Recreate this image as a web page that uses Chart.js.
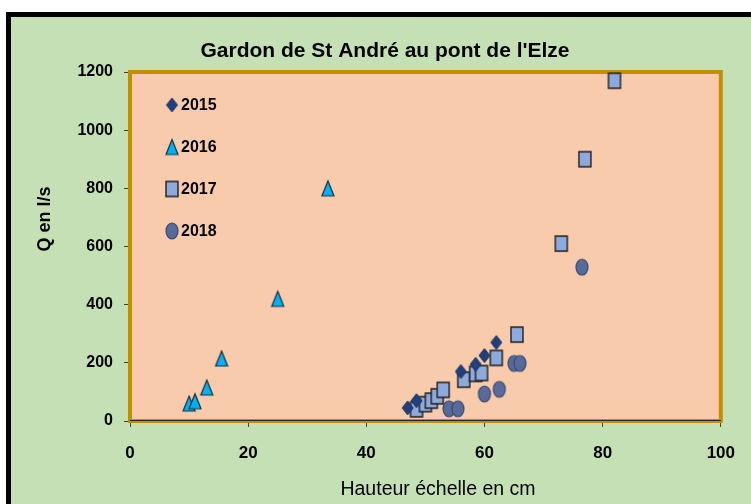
<!DOCTYPE html>
<html><head><meta charset="utf-8">
<script src="https://cdn.jsdelivr.net/npm/chart.js@4/dist/chart.umd.min.js"></script>
<style>
html,body{margin:0;padding:0;background:#fff;width:751px;height:504px;overflow:hidden}
#frame{position:absolute;left:6px;top:12px;width:760px;height:510px;border-left:5px solid #000;border-top:5px solid #000;background:#C5E0B4}
#wrap{position:absolute;left:0;top:0;width:751px;height:504px}
</style></head><body>
<div id="frame"></div>
<div id="wrap"><canvas id="c" width="751" height="504"></canvas></div>
<script>
const titleText = "Gardon de St André au pont de l'Elze";
const xTitle = "Hauteur échelle en cm";
const yTitle = "Q en l/s";
const seriesNames = ["2015", "2016", "2017", "2018"];

const x2015 = [47, 48.5, 56, 58.5, 60, 62];
const y2015 = [45, 70, 170, 195, 225, 270];
const x2016 = [10, 11, 13, 15.5, 25, 33.5];
const y2016 = [60, 68, 115, 215, 420, 800];
const x2017 = [48.5, 50, 51, 52, 53, 56.5, 58.5, 59.5, 62, 65.5, 73, 77, 82];
const y2017 = [40, 58, 70, 85, 107, 142, 162, 165, 217, 297, 610, 900, 1170];
const x2018 = [54, 55.5, 60, 62.5, 65, 66, 76.5];
const y2018 = [42, 42, 93, 109, 198, 198, 529];

const xTicks = [0, 20, 40, 60, 80, 100];
const yTicks = [0, 200, 400, 600, 800, 1000, 1200];

const SANS = "'Liberation Sans', Arial, sans-serif";

function marker(kind, fill, stroke, lw, w, h) {
  const pad = 2;
  const c = document.createElement('canvas');
  c.width = w + pad * 2; c.height = h + pad * 2;
  const g = c.getContext('2d');
  g.fillStyle = fill; g.strokeStyle = stroke; g.lineWidth = lw;
  const cx = c.width / 2, cy = c.height / 2;
  g.beginPath();
  if (kind === 'diamond') {
    g.moveTo(cx, cy - h / 2); g.lineTo(cx + w / 2, cy); g.lineTo(cx, cy + h / 2); g.lineTo(cx - w / 2, cy); g.closePath();
  } else if (kind === 'triangle') {
    g.moveTo(cx, cy - h / 2); g.lineTo(cx + w / 2, cy + h / 2); g.lineTo(cx - w / 2, cy + h / 2); g.closePath();
  } else if (kind === 'square') {
    g.rect(cx - w / 2, cy - h / 2, w, h);
  } else {
    g.ellipse(cx, cy, w / 2, h / 2, 0, 0, Math.PI * 2);
  }
  g.fill(); g.stroke();
  return c;
}

const mk2015 = marker('diamond', '#213F7C', '#1A3560', 1, 11, 14);
const mk2016 = marker('triangle', '#00B0F0', '#13303F', 1.2, 12, 15);
const mk2017 = marker('square', '#8EA9DB', '#1E1E1E', 1.4, 12, 15);
const mk2018 = marker('circle', '#58699B', '#3C4A6C', 1.2, 12, 16);
const markers = [mk2015, mk2016, mk2017, mk2018];

function pts(xs, ys) { return xs.map((x, i) => ({ x: x, y: ys[i] })); }

const deco = {
  id: 'deco',
  beforeDraw(chart) {
    const { ctx, chartArea: a } = chart;
    ctx.save();
    ctx.fillStyle = '#F8CBAD';
    ctx.fillRect(a.left, a.top, a.right - a.left, a.bottom - a.top);
    ctx.restore();
  },
  beforeDatasetsDraw(chart) {
    const { ctx, chartArea: a } = chart;
    ctx.save();
    ctx.strokeStyle = '#BF9000';
    ctx.lineWidth = 4;
    ctx.strokeRect(a.left, a.top, a.right - a.left, a.bottom - a.top);
    ctx.strokeStyle = '#262626';
    ctx.lineWidth = 1;
    ctx.beginPath();
    ctx.moveTo(a.left, a.bottom - 0.5); ctx.lineTo(a.right, a.bottom - 0.5);
    ctx.stroke();
    ctx.restore();
  },
  afterDraw(chart) {
    const { ctx } = chart;
    ctx.save();
    ctx.fillStyle = '#000';
    ctx.font = "bold 21px " + SANS;
    ctx.textAlign = 'center'; ctx.textBaseline = 'middle';
    ctx.fillText(titleText, 385, 51);
    // axis titles
    ctx.font = "19.5px " + SANS;
    ctx.textBaseline = 'alphabetic';
    ctx.fillText(xTitle, 438, 495);
    ctx.save();
    ctx.translate(45.5, 219);
    ctx.rotate(-Math.PI / 2);
    ctx.font = "bold 18px " + SANS;
    ctx.textBaseline = 'middle';
    ctx.fillText(yTitle, 0, 0);
    ctx.restore();
    // legend
    ctx.font = "bold 16px " + SANS;
    ctx.textAlign = 'left';
    ctx.textBaseline = 'middle';
    chart.data.datasets.forEach((ds, i) => {
      const y = 105 + 42 * i;
      const m = markers[i];
      ctx.drawImage(m, 172 - m.width / 2, y - m.height / 2);
      ctx.fillText(ds.label, 181, y + 1);
    });
    ctx.restore();
  }
};

new Chart(document.getElementById('c'), {
  type: 'scatter',
  data: {
    datasets: [
      { label: seriesNames[0], data: pts(x2015, y2015), pointStyle: mk2015 },
      { label: seriesNames[1], data: pts(x2016, y2016), pointStyle: mk2016 },
      { label: seriesNames[2], data: pts(x2017, y2017), pointStyle: mk2017 },
      { label: seriesNames[3], data: pts(x2018, y2018), pointStyle: mk2018 }
    ]
  },
  options: {
    responsive: false,
    animation: false,
    devicePixelRatio: 1,
    layout: { padding: { top: 72, right: 27, bottom: 0, left: 0 } },
    plugins: { legend: { display: false }, title: { display: false }, tooltip: { enabled: false } },
    elements: { point: { radius: 7 } },
    scales: {
      x: {
        type: 'linear', min: 0, max: 100,
        afterBuildTicks: s => { s.ticks = xTicks.map(v => ({ value: v })); },
        afterFit: s => { s.height = 83; },
        grid: { drawOnChartArea: false, drawTicks: true, tickLength: 6, tickColor: '#404040' },
        border: { display: false },
        ticks: { font: { family: SANS, size: 17, weight: 'bold' }, color: '#000', padding: 16, callback: v => String(v) },
        title: { display: false, text: xTitle }
      },
      y: {
        type: 'linear', min: 0, max: 1200,
        afterBuildTicks: s => { s.ticks = yTicks.map(v => ({ value: v })); },
        afterFit: s => { s.width = 130; },
        grid: { drawOnChartArea: false, drawTicks: true, tickLength: 6, tickColor: '#404040' },
        border: { display: false },
        ticks: { font: { family: SANS, size: 16, weight: 'bold' }, color: '#000', padding: 11, callback: v => String(v) },
        title: { display: false, text: yTitle }
      }
    }
  },
  plugins: [deco]
});
</script>
</body></html>
